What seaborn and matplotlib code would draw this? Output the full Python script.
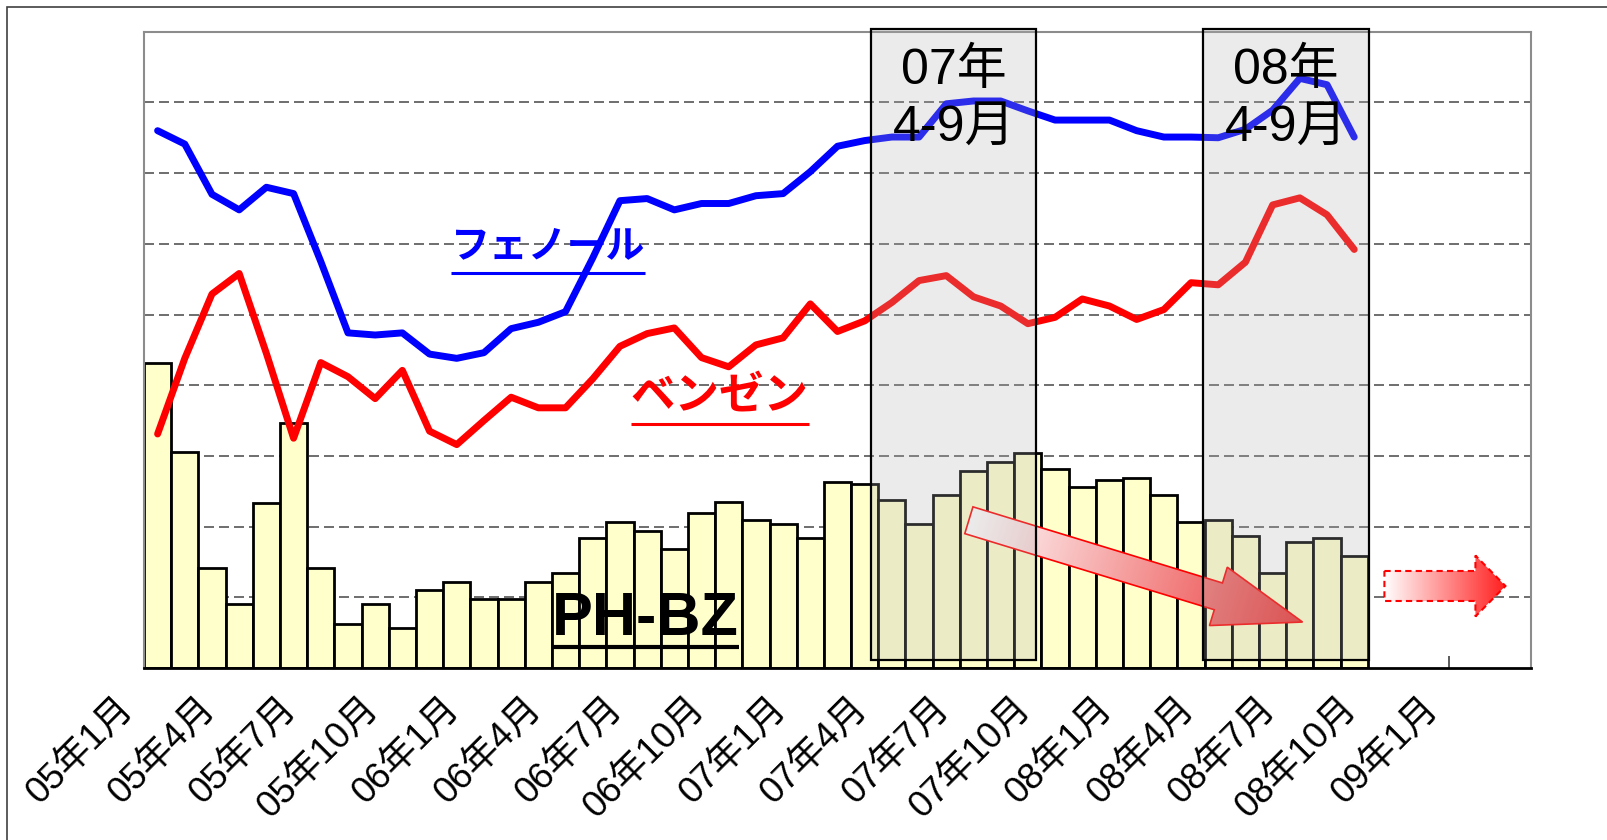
import numpy as np
import pandas as pd
import seaborn as sns
import matplotlib.pyplot as plt
from matplotlib.patches import Rectangle, Polygon
import matplotlib.transforms as mtrans

# monthly series, index 0 = 05年1月 ... index 44 = 08年9月
spread = [432, 306, 141, 90, 234, 347, 141, 62, 90, 57,
          110, 122, 98, 98, 122, 134, 184, 207, 194, 169,
          219, 235, 209, 203, 184, 263, 260, 238, 203, 244,
          279, 291, 304, 281, 256, 266, 269, 244, 207, 209,
          187, 134, 178, 184, 159]
phenol = [760, 741, 670, 648, 680, 671, 575, 474, 471, 474,
          444, 438, 446, 480, 489, 504, 580, 661, 664, 648,
          657, 657, 668, 671, 702, 738, 746, 751, 751, 798,
          802, 802, 788, 775, 775, 775, 760, 751, 751, 750,
          762, 789, 834, 825, 751]
benzene = [331, 438, 529, 558, 445, 325, 432, 412, 381, 421,
           335, 316, 350, 383, 368, 368, 409, 455, 473, 481,
           439, 426, 457, 467, 515, 476, 491, 517, 548, 555,
           525, 512, 487, 496, 522, 512, 493, 507, 545, 542,
           574, 655, 665, 641, 592]
tick_labels = ["05年1月", "05年4月", "05年7月", "05年10月", "06年1月", "06年4月",
               "06年7月", "06年10月", "07年1月", "07年4月", "07年7月", "07年10月",
               "08年1月", "08年4月", "08年7月", "08年10月", "09年1月"]
period_labels = [("07年", "4-9月"), ("08年", "4-9月")]

df = pd.DataFrame({"month": np.arange(len(spread)), "PH-BZ": spread,
                   "フェノール": phenol, "ベンゼン": benzene})

sns.set_theme(style="white")
plt.rcParams['font.family'] = ['Liberation Sans', 'Noto Sans CJK JP', 'DejaVu Sans']
plt.rcParams['text.color'] = 'black'
jp = ['Noto Sans CJK JP', 'DejaVu Sans']

W, H = 1608, 840
fig = plt.figure(figsize=(W / 100, H / 100), dpi=100, facecolor='white')
ax = fig.add_axes([144 / W, 1 - 668 / H, (1531 - 144) / W, (668 - 31.7) / H])
ax.set_xlim(-0.5, 50.5)
ax.set_ylim(0, 900)

# dashed gridlines
for g in range(100, 900, 100):
    ax.axhline(g, color='#555555', lw=1.2, dashes=(6, 3), zorder=1)

# spread bars
sns.barplot(data=df, x="month", y="PH-BZ", native_scale=True, width=1,
            color="#ffffcc", saturation=1, edgecolor="black", linewidth=2,
            errorbar=None, ax=ax, zorder=2)

# price lines
sns.lineplot(data=df, x="month", y="フェノール", color="#0000ff", lw=5,
             solid_joinstyle='round', solid_capstyle='round', ax=ax, zorder=3)
sns.lineplot(data=df, x="month", y="ベンゼン", color="#ff0000", lw=5,
             solid_joinstyle='round', solid_capstyle='round', ax=ax, zorder=3)

ax.set_xlim(-0.5, 50.5)
ax.set_ylim(0, 900)
ax.set_xlabel('')
ax.set_ylabel('')
ax.set_yticks([])
ax.set_xticks(np.arange(-0.5, 51, 3))
ax.set_xticklabels([])
ax.tick_params(axis='x', bottom=True, direction='in', length=9, width=1.2, color='#404040')
for s in ['left', 'top', 'right']:
    ax.spines[s].set_color('#8c8c8c')
    ax.spines[s].set_linewidth(1.5)
ax.spines['bottom'].set_color('black')
ax.spines['bottom'].set_linewidth(2)

# rotated month labels
xt = mtrans.blended_transform_factory(ax.transData, ax.transAxes)
for k, lab in enumerate(tick_labels):
    ax.text(3 * k - 0.5 - 1.05, -0.035, lab, transform=xt, rotation=45,
            rotation_mode='anchor', ha='right', va='top', fontsize=26.5,
            color='black', clip_on=False)


def gradient_arrow(tail, tip, shaft_w, head_w, head_len, c_end, z, **edge):
    tr = ax.transData
    p0 = tr.transform(tail)
    p1 = tr.transform(tip)
    d = p1 - p0
    L = np.hypot(*d)
    u = d / L
    n = np.array([-u[1], u[0]])
    base = p1 - u * head_len
    pts = np.array([p0 + n * shaft_w / 2, base + n * shaft_w / 2, base + n * head_w / 2, p1,
                    base - n * head_w / 2, base - n * shaft_w / 2, p0 - n * shaft_w / 2])
    pd_ = tr.inverted().transform(pts)
    patch = Polygon(pd_, closed=True, facecolor='none', zorder=z + 0.1, **edge)
    ax.add_patch(patch)
    x0, x1 = pd_[:, 0].min(), pd_[:, 0].max()
    y0, y1 = pd_[:, 1].min(), pd_[:, 1].max()
    gx, gy = np.meshgrid(np.linspace(x0, x1, 300), np.linspace(y0, y1, 120))
    gp = tr.transform(np.column_stack([gx.ravel(), gy.ravel()]))
    t = np.clip(((gp - p0) @ u) / L, 0, 1).reshape(gx.shape)
    rgb = (1 - t)[..., None] * np.ones(3) + t[..., None] * np.array(c_end)
    im = ax.imshow(rgb, extent=(x0, x1, y0, y1), origin='lower', aspect='auto',
                   interpolation='bilinear', zorder=z)
    im.set_clip_path(patch)


gradient_arrow((29.83, 209), (42.1, 65), 28, 61, 88, (0.92, 0.2, 0.2), 2.5,
               edgecolor='#ff0000', lw=1.2)
gradient_arrow((45.11, 116), (49.56, 116), 30, 61, 30, (1.0, 0.12, 0.12), 2.5,
               edgecolor='#ff0000', lw=1.5, linestyle=(0, (3, 2)))
ax.set_xlim(-0.5, 50.5)
ax.set_ylim(0, 900)

# highlighted periods
boxes = [(26.25, 32.3), (38.45, 44.55)]
for (x0, x1), (l1, l2) in zip(boxes, period_labels):
    ax.add_patch(Rectangle((x0, 11), x1 - x0, 893, facecolor=(0.7, 0.7, 0.7, 0.25),
                           edgecolor='none', zorder=5, clip_on=False))
    ax.add_patch(Rectangle((x0, 11), x1 - x0, 893, fill=False, edgecolor='black',
                           lw=1.6, zorder=6, clip_on=False))
    cx = (x0 + x1) / 2
    ax.text(cx, 844, l1, ha='center', va='center', fontsize=36, color='black', zorder=7)
    ax.text(cx, 764, l2, ha='center', va='center', fontsize=36, color='black', zorder=7)

# series labels
t_ph = ax.text(10.79, 597, "フェノール", color='#0000ff', fontsize=28, fontweight='bold',
               family=jp, ha='left', va='center', zorder=4)
t_bz = ax.text(17.40, 385, "ベンゼン", color='#ff0000', fontsize=32, fontweight='bold',
               family=jp, ha='left', va='center', zorder=4)
t_sp = ax.text(14.5, 69, "PH-BZ", color='black', fontsize=44, fontweight='bold',
               family=['Liberation Sans', 'DejaVu Sans'], ha='left', va='center', zorder=4)

fig.canvas.draw()
rend = fig.canvas.get_renderer()
inv = ax.transData.inverted()
for t, yline, col, lw in [(t_ph, 558, '#0000ff', 2.2), (t_bz, 345, '#ff0000', 2.2),
                          (t_sp, 29, 'black', 3)]:
    bb = t.get_window_extent(rend)
    xa = inv.transform([[bb.x0, 0], [bb.x1, 0]])[:, 0]
    ax.plot(xa, [yline, yline], color=col, lw=lw, zorder=4, solid_capstyle='butt')

# outer frame
fig.add_artist(Rectangle((7 / W, -0.1), 1.2, 1.1 - 7 / H, transform=fig.transFigure,
                         fill=False, edgecolor='#404040', lw=1.2))

fig.savefig('out.png', dpi=100)
